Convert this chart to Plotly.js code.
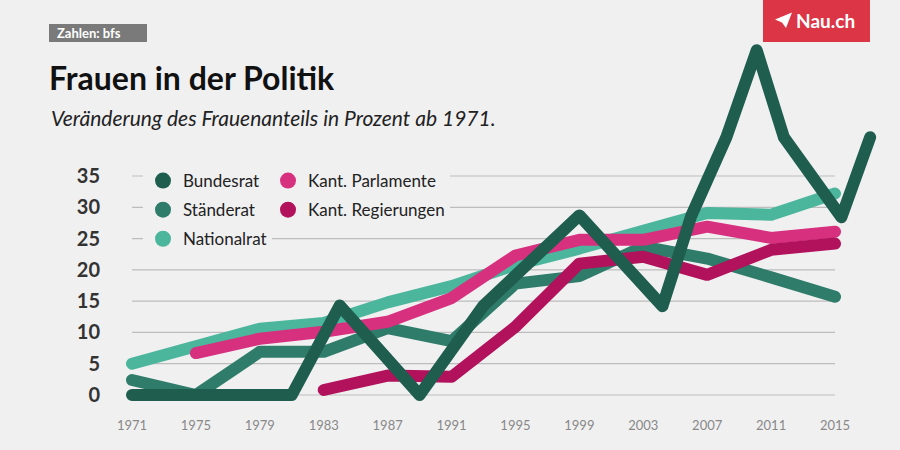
<!DOCTYPE html>
<html><head><meta charset="utf-8">
<script src="https://cdn.plot.ly/plotly-3.0.1.min.js"></script>
<style>
html,body{margin:0;padding:0;background:#f0f0f1;}
#chart{width:900px;height:450px;}
.js-line{stroke-linecap:round !important;stroke-linejoin:round !important;}
</style></head><body><div id="chart"></div>
<script>
// ---- data ----
const electionYears = [1971,1975,1979,1983,1987,1991,1995,1999,2003,2007,2011,2015];
const tickYears = [1971,1975,1979,1983,1987,1991,1995,1999,2003,2007,2011,2015];
const tickLabels = ["1971","1975","1979","1983","1987","1991","1995","1999","2003","2007","2011","2015"];
const yTicks = [0,5,10,15,20,25,30,35];

const bundesratYears = [1971,1981,1984,1989,1993,1999,2004.2,2006,2008.2,2010.1,2011.8,2015.4,2017.2];
const bundesrat = [0,0,14.3,0,14.3,28.7,14.2,28.6,41.2,55.1,41.2,28.4,41.2];

const staenderat = [2.4,0,6.9,6.9,10.7,8.6,17.8,19.0,23.7,21.8,18.8,15.7];
const nationalrat = [5.0,7.7,10.6,11.5,14.8,17.4,20.8,23.4,26.2,29.1,28.8,32.2];

const parlamenteYears = [1975,1979,1983,1987,1991,1995,1999,2003,2007,2011,2015];
const parlamente = [6.7,9.0,10.1,11.7,15.5,22.3,24.8,24.8,26.9,25.1,26.1];

const regierungenYears = [1983,1987,1991,1995,1999,2003,2007,2011,2015];
const regierungen = [0.8,3.1,2.9,10.9,21.0,22.1,19.2,23.2,24.2];

// ---- styling / geometry ----
const BG = '#f0f0f1';
const C_BR = '#1f5e4f', C_SR = '#2f7c6b', C_NR = '#4cb69d', C_KP = '#d6307f', C_KR = '#b2115c';
const L = 106, R = 890, T = 40, B = 410, W = R - L, H = B - T;
const PPY = (835 - 132) / 44;   // px per year
const PPU = (395 - 176) / 35;   // px per percent
const fx = p => (p - L) / W;
const fy = p => (B - p) / H;

const lineTrace = (name, x, y, color) => ({
  type: 'scatter', mode: 'lines', name, x, y, showlegend: false, hoverinfo: 'skip',
  line: {color, width: 12}
});
const legendTrace = (name, color, lg) => ({
  type: 'scatter', mode: 'markers', name, x: [null], y: [null], legend: lg, legendgroup: name,
  marker: {size: 18, color}, hoverinfo: 'skip'
});

const data = [
  lineTrace('Ständerat', electionYears, staenderat, C_SR),
  lineTrace('Nationalrat', electionYears, nationalrat, C_NR),
  lineTrace('Kant. Parlamente', parlamenteYears, parlamente, C_KP),
  lineTrace('Kant. Regierungen', regierungenYears, regierungen, C_KR),
  lineTrace('Bundesrat', bundesratYears, bundesrat, C_BR),
  legendTrace('Bundesrat', C_BR, 'legend'),
  legendTrace('Ständerat', C_SR, 'legend'),
  legendTrace('Nationalrat', C_NR, 'legend'),
  legendTrace('Kant. Parlamente', C_KP, 'legend2'),
  legendTrace('Kant. Regierungen', C_KR, 'legend2')
];

const shapes = yTicks.map(v => ({
  type: 'line', xref: 'x', yref: 'y', x0: tickYears[0], x1: tickYears[tickYears.length - 1], y0: v, y1: v,
  line: {color: '#bdbdbd', width: 1.2}, layer: 'below'
}));
// source tag box
shapes.push({type: 'rect', xref: 'paper', yref: 'paper', x0: fx(49), x1: fx(147), y0: fy(42), y1: fy(24),
  fillcolor: '#7a7a7a', line: {width: 0}, layer: 'above'});
// Nau.ch box
shapes.push({type: 'rect', xref: 'paper', yref: 'paper', x0: fx(763), x1: fx(870), y0: fy(42), y1: fy(0),
  fillcolor: '#dc3545', line: {width: 0}, layer: 'above'});
const plane = [[775,19.5],[792,12.5],[786,28],[782,22.5]];
shapes.push({type: 'path', xref: 'paper', yref: 'paper',
  path: 'M' + plane.map(p => fx(p[0]) + ',' + fy(p[1])).join(' L') + ' Z',
  fillcolor: '#ffffff', line: {width: 0}, layer: 'above'});

const legendBase = {
  xanchor: 'left', yanchor: 'top', bgcolor: BG, borderwidth: 0,
  font: {family: 'Lato', size: 17, color: '#222'}, tracegroupgap: 4,
  itemclick: false, itemdoubleclick: false
};

const layout = {
  width: 900, height: 450,
  paper_bgcolor: BG, plot_bgcolor: BG,
  margin: {l: L, r: 900 - R, t: T, b: 450 - B},
  font: {family: 'Lato', color: '#222'},
  title: {text: '<b>Frauen in der Politik</b>', xref: 'container', yref: 'container',
    x: 49 / 900, xanchor: 'left', y: 1 - 79 / 450, yanchor: 'middle',
    font: {family: 'Lato', size: 32, color: '#111'}},
  xaxis: {range: [1971 - (132 - L) / PPY, 1971 + (R - 132) / PPY], tickvals: tickYears, ticktext: tickLabels,
    showgrid: false, zeroline: false, showline: false, ticks: '', fixedrange: true, ticklabelstandoff: 6,
    tickfont: {family: 'Lato', size: 13, color: '#888'}},
  yaxis: {range: [(395 - B) / PPU, (395 - T) / PPU], tickvals: yTicks, ticktext: yTicks.map(String),
    showgrid: false, zeroline: false, showline: false, ticks: '', fixedrange: true, ticklabelstandoff: 5,
    tickfont: {family: 'Lato', size: 20, color: '#333', weight: 'bold'}},
  legend: Object.assign({x: fx(143), y: fy(163)}, legendBase),
  legend2: Object.assign({x: fx(268), y: fy(163)}, legendBase),
  shapes,
  annotations: [
    {text: 'Veränderung des Frauenanteils in Prozent ab 1971.', xref: 'paper', yref: 'paper',
      x: fx(49), y: fy(118), xanchor: 'left', yanchor: 'middle', showarrow: false,
      font: {family: 'Lato', size: 21, color: '#222', style: 'italic'}},
    {text: '<b>Zahlen: bfs</b>', xref: 'paper', yref: 'paper', x: fx(55), y: fy(33),
      xanchor: 'left', yanchor: 'middle', showarrow: false,
      font: {family: 'Lato', size: 13, color: '#ffffff'}},
    {text: '<b>Nau.ch</b>', xref: 'paper', yref: 'paper', x: fx(794), y: fy(20),
      xanchor: 'left', yanchor: 'middle', showarrow: false,
      font: {family: 'Lato', size: 19, color: '#ffffff', weight: 900}}
  ]
};

Plotly.newPlot('chart', data, layout, {displayModeBar: false, staticPlot: true});
</script></body></html>
